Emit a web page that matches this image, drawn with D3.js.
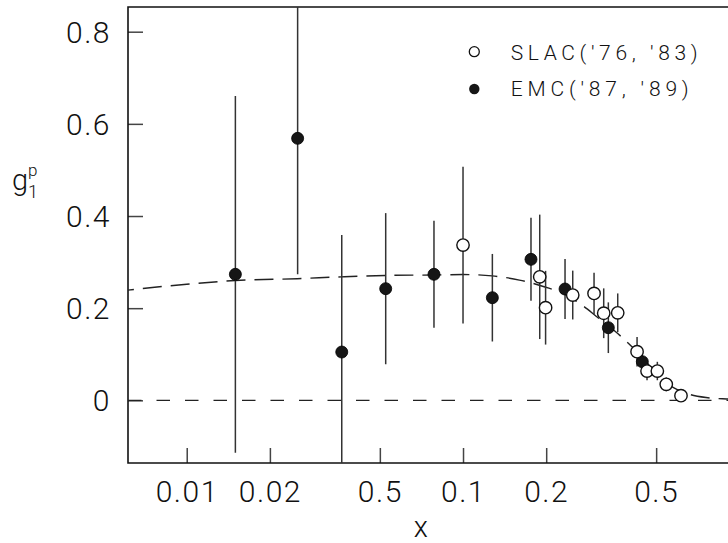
<!DOCTYPE html>
<html>
<head>
<meta charset="utf-8">
<script src="https://cdn.jsdelivr.net/npm/d3@7/dist/d3.min.js"></script>
<style>
  html, body { margin: 0; padding: 0; background: #fff; }
  svg { display: block; }
  text { font-family: Roboto, "Open Sans", "DejaVu Sans", sans-serif; font-weight: 300; fill: #111; }
</style>
</head>
<body>
<svg id="chart" width="728" height="543"></svg>
<script>
// ---- data ----
const emcX    = [0.015, 0.0252, 0.0364, 0.0525, 0.0785, 0.1277, 0.1762, 0.234, 0.3357, 0.4456];
const emcY    = [0.2735, 0.5686, 0.1048, 0.2423, 0.2735, 0.2227, 0.306, 0.2416, 0.1576, 0.0838];
const emcErr  = [0.387, 0.295, 0.254, 0.164, 0.116, 0.095, 0.09, 0.065, 0.055, 0.02];

const slacX   = [0.1, 0.1895, 0.199, 0.2495, 0.298, 0.323, 0.363, 0.4265, 0.4634, 0.505, 0.544, 0.615];
const slacY   = [0.337, 0.268, 0.201, 0.2285, 0.232, 0.189, 0.190, 0.1055, 0.0636, 0.0636, 0.0347, 0.010];
const slacErr = [0.17, 0.135, 0.08, 0.053, 0.045, 0.054, 0.042, 0.032, 0.02, 0.02, 0.015, 0.0];

const fitX = [0.0055, 0.0061, 0.01, 0.015, 0.0251, 0.0362, 0.0523, 0.0784, 0.1, 0.1274, 0.16, 0.198, 0.234, 0.272, 0.304, 0.363, 0.406, 0.452, 0.502, 0.58, 0.66, 0.758, 0.90, 1.0];
const fitY = [0.236, 0.239, 0.252, 0.260, 0.264, 0.268, 0.271, 0.272, 0.273, 0.270, 0.261, 0.246, 0.230, 0.205, 0.182, 0.145, 0.118, 0.090, 0.055, 0.027, 0.013, 0.006, 0.003, 0.002];

const xTickValues = [0.01, 0.02, 0.05, 0.1, 0.2, 0.5];
const xTickLabels = ["0.01", "0.02", "0.5", "0.1", "0.2", "0.5"];
const yTickValues = [0, 0.2, 0.4, 0.6, 0.8];
const yTickLabels = ["0", "0.2", "0.4", "0.6", "0.8"];
const legendLabels = ["SLAC('76, '83)", "EMC('87, '89)"];

// ---- layout ----
const svg = d3.select("#chart");
const L = 128, T = 7, B = 463, R = 728;
const FONT = "Roboto, 'Open Sans', sans-serif";

const x = d3.scaleLog().domain([0.00613, 0.91]).range([L, R]);
const y = d3.scaleLinear().domain([-0.136, 0.8536]).range([B, T]);

svg.append("defs").append("clipPath").attr("id", "plotclip")
  .append("rect").attr("x", L).attr("y", T).attr("width", R - L + 20).attr("height", B - T);

// axes
const yAxis = d3.axisLeft(y).tickValues(yTickValues)
  .tickFormat((d, i) => yTickLabels[i]).tickSize(-15).tickPadding(17);
const gy = svg.append("g").attr("transform", `translate(${L},0)`).call(yAxis);
gy.select(".domain").remove();
gy.selectAll(".tick line").attr("stroke", "#444").attr("stroke-width", 1.5);
gy.selectAll(".tick text").attr("font-size", 30).attr("dy", "0.35em")
  .style("letter-spacing", "1.5px")
  .style("font-family", FONT).attr("font-weight", 300).attr("fill", "#111");

const xAxis = d3.axisBottom(x).tickValues(xTickValues)
  .tickFormat((d, i) => xTickLabels[i]).tickSize(-15);
const gx = svg.append("g").attr("transform", `translate(0,${B})`).call(xAxis);
gx.select(".domain").remove();
gx.selectAll(".tick line").attr("stroke", "#444").attr("stroke-width", 1.5);
gx.selectAll(".tick text").attr("font-size", 30).attr("y", 39).attr("dy", "0")
  .style("letter-spacing", "1.5px")
  .style("font-family", FONT).attr("font-weight", 300).attr("fill", "#111");

// frame (left, top, bottom; right side runs off the page)
svg.append("path")
  .attr("d", `M${R + 5},${T}H${L}V${B}H${R + 5}`)
  .attr("fill", "none").attr("stroke", "#111").attr("stroke-width", 1.6);

const plot = svg.append("g").attr("clip-path", "url(#plotclip)");

// zero line
plot.append("line")
  .attr("x1", L).attr("x2", R + 10)
  .attr("y1", y(0)).attr("y2", y(0))
  .attr("stroke", "#222").attr("stroke-width", 1.4)
  .attr("stroke-dasharray", "13.5,15");

// fit curve
const fitData = fitX.map((v, i) => [v, fitY[i]]);
plot.append("path")
  .datum(fitData)
  .attr("d", d3.line().x(d => x(d[0])).y(d => y(d[1])).curve(d3.curveMonotoneX))
  .attr("fill", "none").attr("stroke", "#222").attr("stroke-width", 1.4)
  .attr("stroke-dasharray", "19,9");

// error bars
const emc = emcX.map((v, i) => ({x: v, y: emcY[i], e: emcErr[i]}));
const slac = slacX.map((v, i) => ({x: v, y: slacY[i], e: slacErr[i]}));

plot.selectAll("line.err").data(emc.concat(slac)).enter().append("line")
  .attr("class", "err")
  .attr("x1", d => x(d.x)).attr("x2", d => x(d.x))
  .attr("y1", d => y(d.y + d.e)).attr("y2", d => y(d.y - d.e))
  .attr("stroke", "#333").attr("stroke-width", 1.5);

// markers
plot.selectAll("circle.emc").data(emc).enter().append("circle")
  .attr("class", "emc")
  .attr("cx", d => x(d.x)).attr("cy", d => y(d.y)).attr("r", 6)
  .attr("fill", "#161616").attr("stroke", "#000").attr("stroke-width", 0.8);

plot.selectAll("circle.slac").data(slac).enter().append("circle")
  .attr("class", "slac")
  .attr("cx", d => x(d.x)).attr("cy", d => y(d.y)).attr("r", 6.2)
  .attr("fill", "#fff").attr("stroke", "#111").attr("stroke-width", 1.4);

// legend
const leg = svg.append("g");
leg.append("circle").attr("cx", 474.3).attr("cy", 51.7).attr("r", 5)
  .attr("fill", "#fff").attr("stroke", "#111").attr("stroke-width", 1.3);
leg.append("circle").attr("cx", 474.3).attr("cy", 89).attr("r", 5.2)
  .attr("fill", "#161616");
leg.append("text").attr("x", 510.7).attr("y", 59.5).attr("font-size", 21)
  .style("font-family", FONT).attr("fill", "#111")
  .attr("textLength", 187).attr("lengthAdjust", "spacing").text(legendLabels[0]);
leg.append("text").attr("x", 510.7).attr("y", 96).attr("font-size", 21)
  .style("font-family", FONT).attr("fill", "#111")
  .attr("textLength", 178).attr("lengthAdjust", "spacing").text(legendLabels[1]);

// axis titles
const yl = svg.append("text").attr("x", 12).attr("y", 190).attr("font-size", 29)
  .style("font-family", FONT).attr("fill", "#111");
yl.append("tspan").text("g");
yl.append("tspan").attr("x", 28).attr("y", 176).attr("font-size", 17).text("p");
yl.append("tspan").attr("x", 28).attr("y", 197.5).attr("font-size", 18).text("1");

svg.append("text").attr("x", 420.7).attr("y", 536.5).attr("font-size", 29)
  .style("font-family", FONT).attr("fill", "#111")
  .attr("text-anchor", "middle").text("x");
</script>
</body>
</html>
